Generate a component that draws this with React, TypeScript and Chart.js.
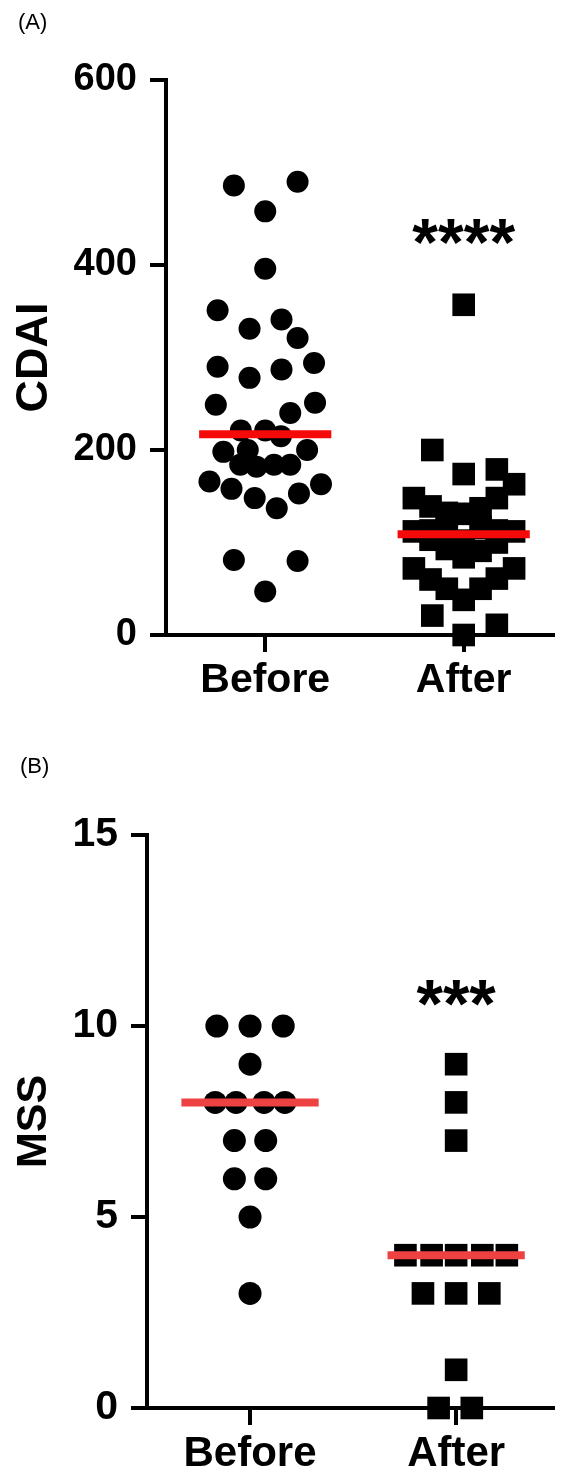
import React, { useEffect, useRef } from 'react';
import { Chart, registerables } from 'chart.js';

Chart.register(...registerables);

const FONT = '"Liberation Sans", Arial, Helvetica, sans-serif';

const categories = ['Before', 'After'];

// Panel A: CDAI
const cdaiTitle = 'CDAI';
const cdaiBeforeX = [0.842, 1.163, 1.0, 1.0, 0.76, 0.921, 1.082, 1.163, 0.76, 0.921, 1.082, 1.246, 0.751, 1.126, 1.251, 0.877, 1.0, 1.079, 0.789, 0.912, 1.211, 0.874, 0.956, 1.044, 1.126, 0.719, 0.83, 0.947, 1.058, 1.17, 1.281, 0.842, 1.163, 1.0];
const cdaiBeforeY = [486, 490, 458, 396, 351, 331, 341, 321, 290, 278, 287, 294, 249, 240, 251, 221, 221, 215, 198, 200, 200, 184, 182, 184, 184, 166, 158, 148, 137, 153, 163, 81, 80, 47];
const cdaiAfterX = [2.0, 1.842, 2.167, 2.0, 2.254, 1.749, 1.833, 1.915, 2.0, 2.085, 2.167, 1.749, 1.833, 1.915, 2.085, 2.167, 2.254, 1.833, 1.915, 2.0, 2.0, 2.085, 2.167, 1.749, 1.833, 1.915, 2.0, 2.085, 2.167, 2.254, 1.842, 2.167, 2.0];
const cdaiAfterY = [357, 200, 179, 174, 163, 148, 139, 132, 131, 137, 148, 112, 113, 116, 116, 113, 112, 103, 93, 102, 84, 91, 100, 72, 60, 50, 38, 50, 61, 72, 21, 11, 0];
const cdaiMedians = [217, 109];
const cdaiYMax = 600;
const cdaiYStep = 200;
const cdaiSig = '****';
const cdaiSigY = 439;

// Panel B: MSS
const mssTitle = 'MSS';
const mssBeforeX = [0.839, 1.0, 1.161, 1.0, 0.831, 0.932, 1.068, 1.169, 0.924, 1.076, 0.924, 1.076, 1.0, 1.0];
const mssBeforeY = [10, 10, 10, 9, 8, 8, 8, 8, 7, 7, 6, 6, 5, 3];
const mssAfterX = [2.0, 2.0, 2.0, 1.754, 1.881, 2.0, 2.127, 2.246, 1.839, 2.0, 2.161, 2.0, 1.915, 2.076];
const mssAfterY = [9, 8, 7, 4, 4, 4, 4, 4, 3, 3, 3, 1, 0, 0];
const mssMedians = [8, 4];
const mssYMax = 15;
const mssYStep = 5;
const mssSig = '***';
const mssSigY = 10.95;

const MED_HALF = 0.333;

type Panel = {
  label: string; labelX: number; labelBaseline: number;
  yTitle: string; yTitleSize: number; yTitlePad: number;
  yMax: number; yStep: number; yTickSize: number; xTickSize: number;
  left: number; top: number; xAxisHeight: number;
  xMin: number; xMax: number;
  beforeX: number[]; beforeY: number[]; afterX: number[]; afterY: number[];
  medians: number[]; medianColor: string;
  circleR: number; squareR: number;
  sig: string; sigY: number; sigSize: number;
};

function buildConfig(p: Panel): any {
  const medianSets = p.medians.map((m, i) => ({
    data: [{ x: i + 1 - MED_HALF, y: m }, { x: i + 1 + MED_HALF, y: m }],
    showLine: true,
    borderColor: p.medianColor,
    borderWidth: 8,
    borderCapStyle: 'butt',
    pointRadius: 0,
    pointHoverRadius: 0,
    order: 0,
    clip: false,
  }));
  const annot = {
    id: 'annot' + p.label,
    afterDraw(chart: any) {
      const ctx = chart.ctx;
      ctx.save();
      ctx.fillStyle = '#000';
      ctx.textAlign = 'left';
      ctx.textBaseline = 'alphabetic';
      ctx.font = `22px ${FONT}`;
      ctx.fillText(p.label, p.labelX, p.labelBaseline);
      const xs = chart.scales.x;
      const ys = chart.scales.y;
      ctx.textAlign = 'center';
      ctx.font = `bold ${p.sigSize}px ${FONT}`;
      ctx.fillText(p.sig, xs.getPixelForValue(2), ys.getPixelForValue(p.sigY) + 0.55 * p.sigSize);
      ctx.restore();
    },
  };
  return {
    type: 'scatter',
    data: {
      datasets: [
        ...medianSets,
        {
          data: p.beforeX.map((x, i) => ({ x, y: p.beforeY[i] })),
          pointStyle: 'circle',
          pointRadius: p.circleR,
          pointHoverRadius: p.circleR,
          backgroundColor: '#000',
          borderWidth: 0,
          order: 1,
          clip: false,
        },
        {
          data: p.afterX.map((x, i) => ({ x, y: p.afterY[i] })),
          pointStyle: 'rect',
          pointRadius: p.squareR,
          pointHoverRadius: p.squareR,
          backgroundColor: '#000',
          borderWidth: 0,
          order: 1,
          clip: false,
        },
      ],
    },
    options: {
      animation: false,
      responsive: false,
      devicePixelRatio: 1,
      events: [],
      layout: { padding: { top: p.top, left: 0, right: 0, bottom: 0 } },
      plugins: { legend: { display: false }, tooltip: { enabled: false } },
      scales: {
        x: {
          type: 'linear',
          min: p.xMin,
          max: p.xMax,
          afterBuildTicks: (s: any) => { s.ticks = [{ value: 1 }, { value: 2 }]; },
          afterFit: (s: any) => { s.height = p.xAxisHeight; },
          ticks: {
            callback: (v: any) => categories[Math.round(Number(v)) - 1] ?? '',
            font: { family: FONT, size: p.xTickSize, weight: 'bold' },
            color: '#000',
            padding: 4,
            autoSkip: false,
            maxRotation: 0,
          },
          grid: { drawOnChartArea: false, drawTicks: true, tickLength: 17, color: '#000', lineWidth: 4 },
          border: { display: true, color: '#000', width: 4 },
        },
        y: {
          type: 'linear',
          min: 0,
          max: p.yMax,
          afterFit: (s: any) => { s.width = p.left; },
          ticks: {
            stepSize: p.yStep,
            font: { family: FONT, size: p.yTickSize, weight: 'bold' },
            color: '#000',
            padding: 13,
          },
          grid: { drawOnChartArea: false, drawTicks: true, tickLength: 16, color: '#000', lineWidth: 4 },
          border: { display: true, color: '#000', width: 4 },
          title: {
            display: true,
            text: p.yTitle,
            color: '#000',
            font: { family: FONT, size: p.yTitleSize, weight: 'bold' },
            padding: { top: p.yTitlePad, bottom: 0 },
          },
        },
      },
    },
    plugins: [annot],
  };
}

const panelA: Panel = {
  label: '(A)', labelX: 18, labelBaseline: 29,
  yTitle: cdaiTitle, yTitleSize: 45, yTitlePad: 8,
  yMax: cdaiYMax, yStep: cdaiYStep, yTickSize: 38, xTickSize: 41,
  left: 166, top: 80, xAxisHeight: 105,
  xMin: 0.5, xMax: 2.45,
  beforeX: cdaiBeforeX, beforeY: cdaiBeforeY, afterX: cdaiAfterX, afterY: cdaiAfterY,
  medians: cdaiMedians, medianColor: 'rgb(245,10,10)',
  circleR: 11, squareR: 16,
  sig: cdaiSig, sigY: cdaiSigY, sigSize: 66,
};

const panelB: Panel = {
  label: '(B)', labelX: 20, labelBaseline: 33,
  yTitle: mssTitle, yTitleSize: 43, yTitlePad: 8,
  yMax: mssYMax, yStep: mssYStep, yTickSize: 41, xTickSize: 42,
  left: 147, top: 95, xAxisHeight: 69,
  xMin: 0.5, xMax: 2.47,
  beforeX: mssBeforeX, beforeY: mssBeforeY, afterX: mssAfterX, afterY: mssAfterY,
  medians: mssMedians, medianColor: 'rgb(238,66,66)',
  circleR: 11.5, squareR: 16,
  sig: mssSig, sigY: mssSigY, sigSize: 68,
};

function PanelChart({ panel, top, height }: { panel: Panel; top: number; height: number }) {
  const ref = useRef<HTMLCanvasElement | null>(null);
  useEffect(() => {
    if (!ref.current) return;
    const chart = new Chart(ref.current, buildConfig(panel));
    return () => chart.destroy();
  }, [panel]);
  return (
    <canvas
      ref={ref}
      width={569}
      height={height}
      style={{ position: 'absolute', left: 0, top, width: 569, height, display: 'block' }}
    />
  );
}

export default function App() {
  return (
    <div style={{ position: 'absolute', left: 0, top: 0, width: 569, height: 1477, background: '#fff' }}>
      <PanelChart panel={panelA} top={0} height={740} />
      <PanelChart panel={panelB} top={740} height={737} />
    </div>
  );
}
